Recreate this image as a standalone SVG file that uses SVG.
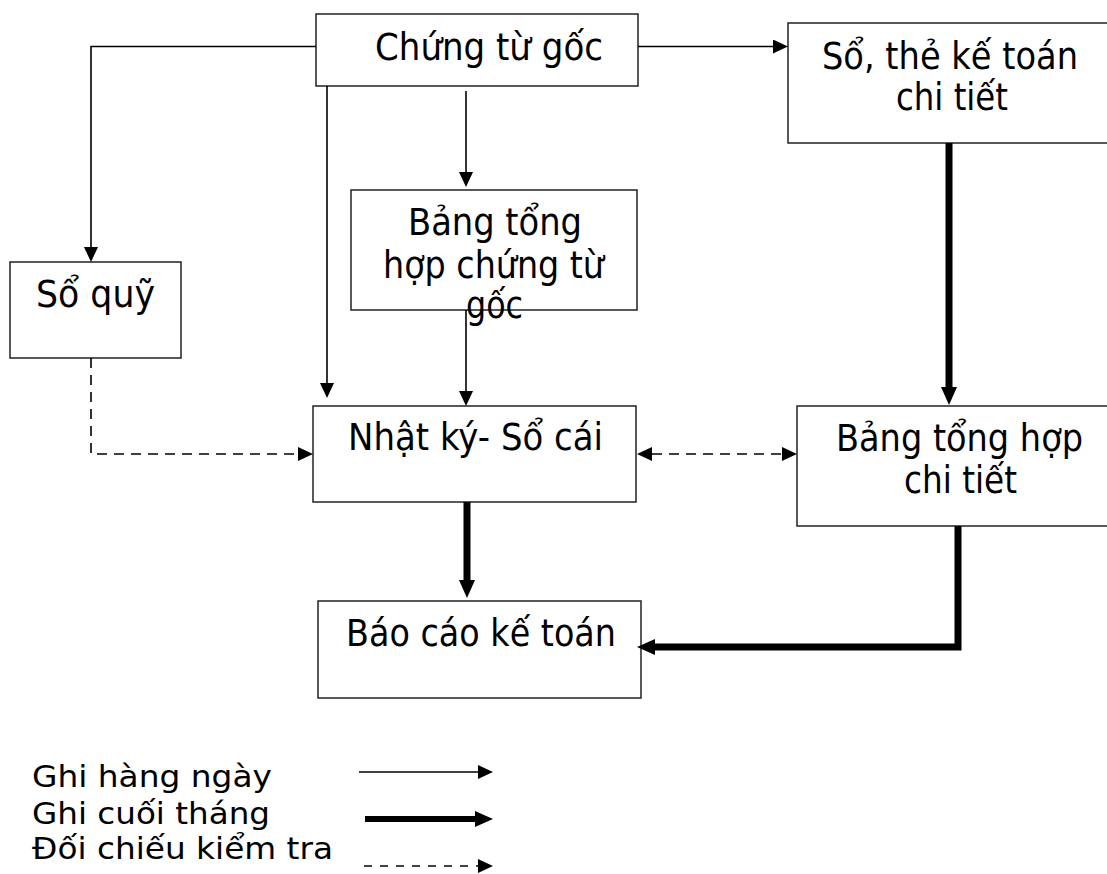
<svg xmlns="http://www.w3.org/2000/svg" width="1107" height="874" viewBox="0 0 1107 874">
<style>
.box{fill:#fff;stroke:#222;stroke-width:1.5}
.t{font-family:"DejaVu Sans","Liberation Sans",sans-serif;font-size:37px;fill:#000}
.lg{font-family:"DejaVu Sans","Liberation Sans",sans-serif;font-size:31px;fill:#000}
.thin{fill:none;stroke:#000;stroke-width:1.6}
.thick{fill:none;stroke:#000;stroke-width:7}
.dash{fill:none;stroke:#000;stroke-width:1.6;stroke-dasharray:10 7}
</style>
<defs>
<marker id="ah" markerUnits="userSpaceOnUse" viewBox="0 0 15 14" refX="0" refY="7" markerWidth="15" markerHeight="14" orient="auto-start-reverse">
<path d="M0,0 L15,7 L0,14 z" fill="#000"/>
</marker>
<marker id="ahk" markerUnits="userSpaceOnUse" viewBox="0 0 18 16" refX="0" refY="8" markerWidth="18" markerHeight="16" orient="auto-start-reverse">
<path d="M0,0 L18,8 L0,16 z" fill="#000"/>
</marker>
</defs>
<rect width="1107" height="874" fill="#fff"/>
<g id="n-chungtugoc">
<rect class="box" x="316" y="14" width="322" height="72"/>
<text class="t" x="375" y="60" textLength="228" lengthAdjust="spacingAndGlyphs">Chứng từ gốc</text>
</g>
<g id="n-sothe">
<rect class="box" x="788" y="23" width="330" height="120"/>
<text class="t" x="822" y="69" textLength="256" lengthAdjust="spacingAndGlyphs">Sổ, thẻ kế toán</text>
<text class="t" x="896" y="110" textLength="112" lengthAdjust="spacingAndGlyphs">chi tiết</text>
</g>
<g id="n-bangctg">
<rect class="box" x="351" y="190" width="286" height="120"/>
<text class="t" x="408" y="235" textLength="174" lengthAdjust="spacingAndGlyphs">Bảng tổng</text>
<text class="t" x="383" y="278" textLength="221" lengthAdjust="spacingAndGlyphs">hợp chứng từ</text>
<text class="t" x="466" y="318" textLength="57" lengthAdjust="spacingAndGlyphs">gốc</text>
</g>
<g id="n-soquy">
<rect class="box" x="10" y="262" width="171" height="96"/>
<text class="t" x="36" y="307" textLength="119" lengthAdjust="spacingAndGlyphs">Sổ quỹ</text>
</g>
<g id="n-nhatky">
<rect class="box" x="313" y="406" width="323" height="96"/>
<text class="t" x="348" y="450" textLength="255" lengthAdjust="spacingAndGlyphs">Nhật ký- Sổ cái</text>
</g>
<g id="n-bangct">
<rect class="box" x="797" y="406" width="330" height="120"/>
<text class="t" x="836" y="451" textLength="247" lengthAdjust="spacingAndGlyphs">Bảng tổng hợp</text>
<text class="t" x="904" y="493" textLength="113" lengthAdjust="spacingAndGlyphs">chi tiết</text>
</g>
<g id="n-baocao">
<rect class="box" x="318" y="601" width="323" height="97"/>
<text class="t" x="346" y="646" textLength="270" lengthAdjust="spacingAndGlyphs">Báo cáo kế toán</text>
</g>
<g id="connectors">
<path class="thin" d="M316,46.5 H91 V247" marker-end="url(#ah)"/>
<path class="thin" d="M327,86 V383" marker-end="url(#ah)"/>
<path class="thin" d="M466,91 V172" marker-end="url(#ah)"/>
<path class="thin" d="M638,46.5 H773" marker-end="url(#ah)"/>
<path class="thin" d="M466,310 V391" marker-end="url(#ah)"/>
<path class="dash" d="M91,358 V454 H298" marker-end="url(#ah)"/>
<path class="dash" d="M652,454 H782" marker-start="url(#ah)" marker-end="url(#ah)"/>
<path class="thick" d="M949,143 V387" marker-end="url(#ahk)"/>
<path class="thick" d="M467,502 V580" marker-end="url(#ahk)"/>
<path class="thick" d="M958,526 V647 H655" marker-end="url(#ahk)"/>
</g>
<g id="legend">
<text class="lg" x="32" y="787" textLength="240" lengthAdjust="spacingAndGlyphs">Ghi hàng ngày</text>
<text class="lg" x="32" y="824" textLength="238" lengthAdjust="spacingAndGlyphs">Ghi cuối tháng</text>
<text class="lg" x="32" y="859" textLength="301" lengthAdjust="spacingAndGlyphs">Đối chiếu kiểm tra</text>
<path class="thin" d="M359,772 H478" marker-end="url(#ah)"/>
<path class="thick" d="M365,819 H475" style="stroke-width:6" marker-end="url(#ahk)"/>
<path class="dash" d="M364,866 H478" style="stroke-dasharray:8 8" marker-end="url(#ah)"/>
</g>
</svg>
